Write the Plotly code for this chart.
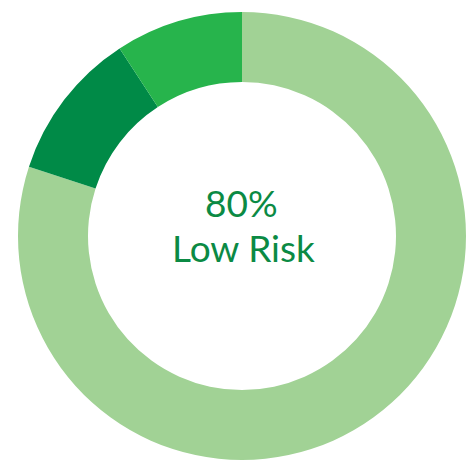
import plotly.graph_objects as go

labels = ["Low Risk", "Medium Risk", "High Risk"]
values = [80, 10.8, 9.2]
colors = ["#A1D295", "#008A47", "#27B44C"]
center_value = "80%"
center_label = "Low Risk"

W, H = 466, 461
cx, cy, r = 242, 236, 224  # pixel centre (from top) and radius

fig = go.Figure(go.Pie(
    labels=labels,
    values=values,
    hole=154 / 224,
    sort=False,
    direction="clockwise",
    rotation=0,
    marker=dict(colors=colors, line=dict(width=0)),
    textinfo="none",
    hoverinfo="label+percent",
    showlegend=False,
    domain=dict(x=[(cx - r) / W, min(1, (cx + r) / W)],
                y=[(H - cy - r) / H, (H - cy + r) / H]),
))

font = dict(family="Lato, 'Open Sans', sans-serif", size=37, color="#0B8A44")
fig.add_annotation(text=center_value, x=cx / W, y=(H - 203) / H, xref="paper", yref="paper",
                   showarrow=False, font=font, xanchor="center", yanchor="middle")
fig.add_annotation(text=center_label, x=(cx + 1) / W, y=(H - 247) / H, xref="paper", yref="paper",
                   showarrow=False, font=font, xanchor="center", yanchor="middle")

fig.update_layout(width=W, height=H, margin=dict(l=0, r=0, t=0, b=0),
                  paper_bgcolor="white", plot_bgcolor="white")
fig.write_html("out.html")
